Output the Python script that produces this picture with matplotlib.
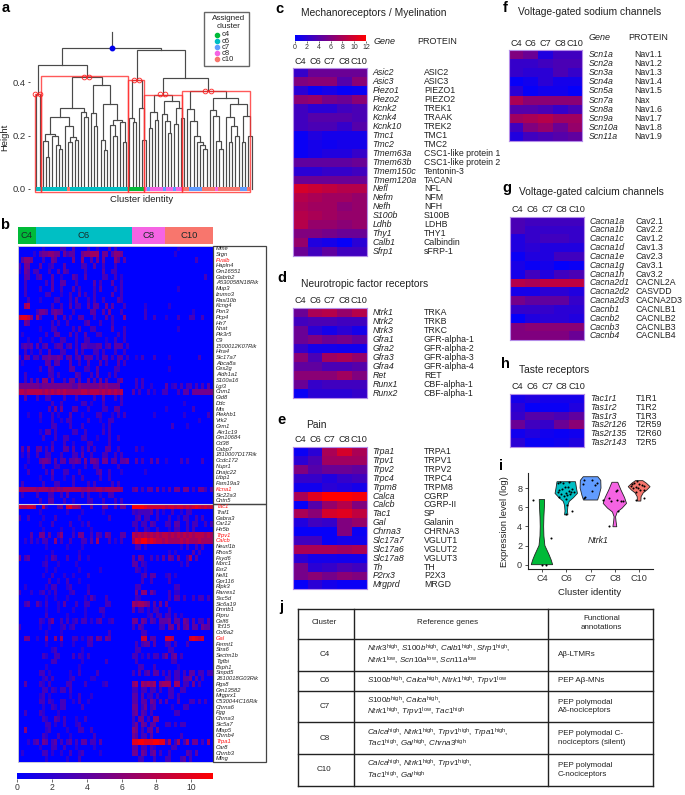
import matplotlib
matplotlib.use("Agg")
import matplotlib.pyplot as plt
from matplotlib.colors import LinearSegmentedColormap
from matplotlib.patches import Rectangle
import numpy as np

plt.rcParams['font.family'] = ['Liberation Sans', 'DejaVu Sans']
plt.rcParams['mathtext.fontset'] = 'custom'
plt.rcParams['mathtext.rm'] = 'Liberation Sans'
plt.rcParams['mathtext.it'] = 'Liberation Sans:italic'
plt.rcParams['mathtext.bf'] = 'Liberation Sans:bold'

W, H = 685, 795
cols = ["C4", "C6", "C7", "C8", "C10"]
cluster_colors = {"c4": "#00ba38", "c6": "#00bfc4", "c7": "#619cff", "c8": "#f564e3", "c10": "#f8766d"}

# ---- panel a: dendrogram, node = [height, left, right], 0 is a leaf
box1 = [.355, 0, 0]
box2 = [.42,
        [.305,
         [.27,
          [.205, [.18, 0, [.12, 0, 0]], [.2, 0, [.165, 0, [.15, 0, 0]]]],
          [.235, 0, [.195, [.175, 0, 0], [.185, 0, 0]]]],
         [.29, 0, [.27, 0, 0]]],
        [.39,
         [.285, 0, [.235, 0, 0]],
         [.32, [.185, 0, [.145, 0, 0]],
          [.26, [.24, 0, [.2, 0, 0]], [.25, 0, [.175, 0, 0]]]]]]
box3 = [.408, [.265, 0, [.25, 0, 0]], [.305, 0, [.185, 0, 0]]]
box4 = [.354,
        [.29, [.23, 0, 0], [.26, 0, 0]],
        [.33, [.28, 0, [.255, 0, [.21, 0, 0]]], [.305, [.245, 0, 0], [.265, 0, 0]]]]
box5 = [.367,
        [.3, 0, [.255, 0, [.2, 0, [.175, 0, [.165, 0, [.15, 0, 0]]]]]],
        [.34,
         [.295, 0, [.275, 0, [.18, 0, [.15, 0, 0]]]],
         [.32, [.27, 0, [.235, [.175, 0, 0], [.2, 0, 0]]], [.275, [.175, 0, 0], [.2, 0, 0]]]]]
tree = [.528, [.464, box1, box2], [.522, box3, [.415, box4, box5]]]
root_top = .59
marked_heights = [.355, .42, .408, .354, .367]
box_counts = [2, 27, 5, 12, 21]
box_tops = [.358, .423, .408, .354, .369]
leaf_clusters = (["c6"] * 2 + ["c6"] * 8 + ["c10"] + ["c6"] * 18 + ["c4"] * 5
                 + ["c8", "c7", "c8", "c8", "c8", "c8", "c7", "c8", "c8", "c7", "c8", "c8"]
                 + ["c10", "c10", "c7", "c7", "c7", "c7", "c10", "c10", "c10", "c10", "c8",
                    "c10", "c10", "c10", "c10", "c10", "c10", "c10", "c7", "c7", "c10"])

# ---- panel b: one char per cell, . = 0, a = 10, b = 11 (C4 | C6 | C8 | C10)
genes_top = ["Mme", "Srgn", "Pvalb", "Hapln4", "Gm16551", "Gabrb2", "A530058N18Rik", "Mup3", "Izumo3",
             "Rasl10b", "Kcng4", "Pon3", "Pcp4", "Htr7", "Nnat", "Pik3r5", "C9", "1500012K07Rik", "Htra4",
             "Slc17a7", "Abca8a", "Ces2g", "Aldh1a1", "S100a16", "Lgi3", "Cnm1", "Gid8", "Ddc", "Mts",
             "Plekhb1", "Vrk2", "Grm1", "Akr1c19", "Gm10684", "Cd38", "Cabp7", "1810007D17Rik", "Ccdc172",
             "Nupr1", "Dnajc22", "Ltbp1", "Fam19a3", "Kcna1", "Slc22a3", "Cntn5"]
rows_top = [
    "......|..2.....33..4....3..2...4.3.|...........|....2...........",
    ".....2|.4556655.5344..566777.55.4665.|...........|...2............",
    ".4665.|..3..54.....5..6..4.5.5...64.4|...........|..........3.....",
    "3.55..|.4..23...4.....33..4..3...3..|...........|................",
    "2.54.3|3...3..4.43.....3.....4..33..|...........|................",
    "..44..|34...4..2...43..4.....33..3.2|...........|.............3..",
    "..3...|...3.4..44...3.....4.3...4..3.|...........|................",
    "..3...|.3...4..3...4.3....3.4....3.3|...........|....2...........",
    "..3...|...33...2..3..4.3..3.....4..3.|...........|................",
    "...3..|.2....33...3.4...3.3..3....43.|...........|................",
    "..78..|.....3..3..4.33..4.44..5.4...3|....2......|.2..............",
    "......|3554.4544...3.....44..4.5...3|....3......|.........2......",
    "9aa96.|73....5..4.3..44...3...4.3...6|....3..3...|2...3...33..3...",
    "..54..|.....3.3..3.....34...3...3....|...........|................",
    "......|.2...33.....3.4...33.....4...3|...........|....2...........",
    ".2....|...3..44...4.3..4...33.....3.3|...........|................",
    "...2..|.3...2..33...3..33.....2..3..3|...........|................",
    ".3434.|4.34..344.34.3.4433344.34.444.3|...........|................",
    "..3.2.|.3..4...33...4.3...33.3...3..3|...........|................",
    "3.55.3|3.4454454.44.34.444.3.44.3.44.3|.2.3...3...|.2.........3....",
    ".2....|...44.44...4..3..4...4.3...4.3.|...........|................",
    "......|.3..43.....44...33..4.....33.|...........|.2..............",
    "..3...|....33.3.....43...3.4...3.3...|...........|................",
    "..3.4.|4.66.5...3.55.4..5.4.5.4...45|.3.3.......|................",
    "555555|5455555555554465555556565555|.3.3..2....|4.23.3.33.3.3.4.",
    "887888|88787878787777788788878787878|4.3..3.2..3|3...3.44.5555555",
    "..4...|3..33....3...3.....3..4...3.3|...........|................",
    "......|.....3..3......33.2...3.....3|...........|......2.........",
    "......|....4.5.5...44...3....33..44.|...........|2........3......",
    "...2..|.3...3.2...4...2....33...2.3.3|.......2...|......2.......3.",
    "......|.2...3..2.33.....3...2..33...|...........|...........2....",
    "......|.....33....3...3......2.3....|...........|..3....2........",
    "......|.2.44.3.....33..3.....3.3...|...........|................",
    "......|..3...3..33....33...2...3..3|...........|................",
    "......|.....3...3..2....33.....3....|...........|................",
    ".4.5..|44.3.4...44.4..3.4.3...44..3.|.3.2.......|................",
    ".2.3..|3..33...3...33.4..3...33..3.3.|...........|................",
    "...2..|.4554.4.44.4454.5.554.55.44.445|.4.3..4.4..|2....3.3....3...",
    "..2...|..3...33....2...3..33......3..|...........|................",
    "...3..|...3.4...33...3.....34..3...2.|....2......|................",
    "......|.2...3...2..3..3.....3..3...|...........|................",
    ".3....|..3...33....3....3.3.....3.3..|...........|................",
    "777777|67776767677777766766776777776|45.3.44.5.3|.4.55.55.3.553.4",
    ".2....|3...33..3.4....3.3...2..33....|...........|................",
    "......|.3..44...3..2....33...3...3.3|...........|................",
]
genes_bottom = ["Tac1", "Traf1", "Gabra3", "Car12", "Htr5b", "Trpv1", "Calcb", "Neurl1b", "Rhox5", "Fxyd6",
                "Morc1", "Esr2", "Nell1", "Gpr116", "Ripk3", "Rarres1", "Ssc5d", "Slc6a19", "Dmrtb1", "Ptpru",
                "Celf6", "Tcf15", "Col6a2", "Gal", "Fermt1", "Stra6", "Sectm1b", "Tgfbi", "Bsph1", "Smpd5",
                "2610018G03Rik", "Rgs8", "Gm13582", "Mrgprx1", "C530044C16Rik", "Chrna6", "Fgg", "Chrna3",
                "Slc5a7", "Mfap5", "Chrnb4", "Trpa1", "Car8", "Chrnb3", "Mfng"]
rows_bottom = [
    "988998|..82...45.9a776...5...55..4.55.|bbbba999999|8998998989a98989",
    "......|.2........2....2......2.......|3233334.3.2|..3..2.33.......",
    "3..3..|..2...3.......2.........3.....|.34.33..3..|.3..2.33..3.3...",
    "......|.2...3.....3...2.3............|33.33.43...|33.44..3.33..3.3",
    "......|..2.....2...2.....2...........|.3..32..3..|.2.33..3.3......",
    "....4.|.55.4..36...3.55..3.43.54...44|87878787878|8787878787888787",
    "..2.3.|2.33..6.3..3...33.4.7...3.2.3.|7a9bb9a9887|8777787877787777",
    "......|...2......2....2..............|.33.2......|.....2.3..3.3...",
    "......|.....2........2...............|...........|.2.2.....4.3....",
    "5.34..|...2.43...3...3..2............|4.54..3.3.4|.54.5..37.4.....",
    "......|..23...2.....2................|44.32......|.....2.3........",
    "......|...2..2.......2......2........|.32.2......|................",
    "......|..2..3...2..2....3............|...34.44...|23.2............",
    "......|....3..2..3...2...............|...3..3....|.3..............",
    "..2...|...2.33...23.....2............|.33........|...33...........",
    "3...2.|.23.2.3....23....3............|.5.66.53...|.3.22...........",
    "......|...2..2...2.....2.42...3......|.32........|.3.44.3..3.33.3.",
    "..34..|42.3...2.4...3..33.....33.....|767765.4.5.|5...............",
    "......|...2...2....2...2....33.......|4.33.2.33..|.3..............",
    "......|...3......2.....2.....2.......|.....23.33.|33.3.2..........",
    "......|.32.35..3.3.23.33.2.34..23....|55.54.43.44|45.44.54.4.33.4.",
    "3.....|.2..2...23.23.................|3.43.....33|.55.5.45.44.544.",
    "......|...2....2...............3.....|...33......|................",
    "..55..|2..6..6.7...33.2.34.54.54.....|...99.44...|998.....9a989...",
    "......|...2....2...2....33...........|.3.344.4...|33.3...3........",
    "......|.....23........2..............|.33........|.33.............",
    "......|..32..33....3.32.3............|33.2.3.33.3|5.45.3..........",
    "......|.....33........2.......3......|.3.........|..33............",
    "......|...2..........2...............|..33...3...|....2...........",
    "......|.33.2......2..3.....3.........|3.4.34.44.3|.3.33.3.44.33.33",
    "......|..23.3.....23.....22..........|...........|33.33.445.4.3...",
    "..4...|.32.3.....33....3.....23......|67.76767.67|77.77.33.5.3....",
    "......|..33.32.33.3..................|33.33.33.3.|.33..33.........",
    "......|.23.2......2..3...2...........|44.4.23.3..|.33.3...........",
    "......|.33.32..33..2.3..2............|44.44.54.4.|4...4...33.3.3..",
    "......|..2..32.33.....3..............|55.35.34...|..2...33........",
    "..3...|.32....2......................|45.43.3....|...33...........",
    "......|..32..43.3...2..3.............|3.55.3.66..|................",
    "......|...33.2..3...23...............|35.54.44...|33.3.33.........",
    "..6...|...23.....2...33..3...........|65.3.45.5..|................",
    "......|..32...3...2.......3..........|54.33.4....|.....3..........",
    "...2.3|4.54.34.3.34.3.44.33.4........|aabbaaabbaa|37.37.37.55.3.7.",
    "......|.2...33..3...2.....2..........|44.33.32...|..33............",
    ".2....|..33.2..2..3..23.....2........|55.54.45.3.|.3.....43.4.....",
    "......|...2......2...3...............|..33...3...|33...34.3.......",
]
red_genes = ["Pvalb", "Kcna1", "Tac1", "Trpv1", "Calcb", "Gal", "Trpa1"]
header_names = ["C4", "C6", "C8", "C10"]
header_widths = [6, 32, 11, 16]
header_colors = ["#00ba38", "#00bfc4", "#f564e3", "#f8766d"]
cbar_b_ticks = [0, 2, 4, 6, 8, 10]

# ---- panels c to h, columns C4 C6 C7 C8 C10
genes_c = ["Asic2", "Asic3", "Piezo1", "Piezo2", "Kcnk2", "Kcnk4", "Kcnk10", "Tmc1", "Tmc2", "Tmem63a", "Tmem63b",
           "Tmem150c", "Tmem120a", "Nefl", "Nefm", "Nefh", "S100b", "Ldhb", "Thy1", "Calb1", "Sfrp1"]
prot_c = ["ASIC2", "ASIC3", "PIEZO1", "PIEZO2", "TREK1", "TRAAK", "TREK2", "TMC1", "TMC2", "CSC1-like protein 1",
          "CSC1-like protein 2", "Tentonin-3", "TACAN", "NFL", "NFM", "NFH", "S100B", "LDHB", "THY1", "Calbindin",
          "sFRP-1"]
vals_c = [[2.5, 5, 5, 5, 5], [6, 6.5, 6.5, 4, 6.5], [2, .5, 1, .3, .5], [6.5, 7, 5.5, 5, 6.5], [3, 2, 2, 3, 3.5],
          [3, 4, 4, 4, 3.5], [3, 3.5, 3.5, 2.5, 4], [.5, 1.5, 1, 1, 1], [.5, 1, .7, 1, 1], [.5, 1, 1.5, 1.5, 2.5],
          [4.5, 4.5, 4.5, 4.5, 5], [2, 2, 2.5, 2.5, 3], [5, 5, 5, 5, 5], [10, 9.5, 9, 8.5, 8.5], [8.5, 8, 7.5, 7.5, 7],
          [8, 7.5, 7.5, 6.5, 7], [8.5, 8, 7.5, 7, 7], [8.5, 7, 7, 6.5, 7], [6, 6, 5.5, 5, 5], [7, 1.5, 1, .3, 2],
          [5, 3, 4.5, 3, 3]]
genes_d = ["Ntrk1", "Ntrk2", "Ntrk3", "Gfra1", "Gfra2", "Gfra3", "Gfra4", "Ret", "Runx1", "Runx2"]
prot_d = ["TRKA", "TRKB", "TRKC", "GFR-alpha-1", "GFR-alpha-2", "GFR-alpha-3", "GFR-alpha-4", "RET", "CBF-alpha-1",
          "CBF-alpha-1"]
vals_d = [[5, 8, 8.5, 7, 8.5], [3, 3.5, 3.5, 3, 3], [5, 2, 1, 2, 1], [5, 6, 5, 5.5, 4.5], [2.5, 1, 1, .8, .8],
          [6.5, 3.5, 7.5, 8, 7], [4.5, 4.5, 3.5, 3.5, 4], [6.5, 6.5, 6.5, 7.5, 6], [5, 2.5, 3, 3, 3], [.5, 2, 2, 2, 2.5]]
genes_e = ["Trpa1", "Trpv1", "Trpv2", "Trpc4", "Trpm8", "Calca", "Calcb", "Tac1", "Gal", "Chrna3", "Slc17a7", "Slc17a6",
           "Slc17a8", "Th", "P2rx3", "Mrgprd"]
prot_e = ["TRPA1", "TRPV1", "TRPV2", "TRPC4", "TRPM8", "CGRP", "CGRP-II", "SP", "Galanin", "CHRNA3", "VGLUT1", "VGLUT2",
          "VGLUT3", "TH", "P2X3", "MRGD"]
vals_e = [[.5, 2, 8, 10, 8], [2, 3.5, 7.5, 7.5, 7.5], [6, 4, 5, 5, 4.5], [2.5, 2.5, 1.5, 2.5, 3], [.8, .8, 2, 1.5, 1],
          [8, 10.5, 12, 12, 11.5], [.3, 4, 7, 8.5, 6], [8, 6.5, 10, 10.5, 9], [1.5, 3, 2.5, 6, 7], [.3, .3, .3, 6, .5],
          [3, 3, .3, 1, .8], [8, 8, 8, 7.5, 8], [2, 1, 1, .8, .8], [5.5, 2, 2.5, 3.5, 3], [5.5, 6.5, 5.5, 6.5, 6],
          [.3, 2, 1, .5, .5]]
genes_f = ["Scn1a", "Scn2a", "Scn3a", "Scn4a", "Scn5a", "Scn7a", "Scn8a", "Scn9a", "Scn10a", "Scn11a"]
prot_f = ["Nav1.1", "Nav1.2", "Nav1.3", "Nav1.4", "Nav1.5", "Nax", "Nav1.6", "Nav1.7", "Nav1.8", "Nav1.9"]
vals_f = [[6, 5, 1.5, 3, 3], [2.5, 2.5, 3, 3.5, 3.5], [2.5, 2, 2, 3.5, 2.5], [.3, .8, 2, 1, 1], [2, .3, .8, .8, .2],
          [8, 6.5, 6.5, 6.5, 6.5], [4, 4, 3.5, 2.5, 3.5], [7.5, 8, 8.5, 7.5, 7.5], [3, 6, 7, 5, 7], [1.5, 3, 3.5, 4, 4.5]]
genes_g = ["Cacna1a", "Cacna1b", "Cacna1c", "Cacna1d", "Cacna1e", "Cacna1g", "Cacna1h", "Cacna2d1", "Cacna2d2",
           "Cacna2d3", "Cacnb1", "Cacnb2", "Cacnb3", "Cacnb4"]
prot_g = ["Cav2.1", "Cav2.2", "Cav1.2", "Cav1.3", "Cav2.3", "Cav3.1", "Cav3.2", "CACNL2A", "CASVDD", "CACNA2D3",
          "CACNLB1", "CACNLB2", "CACNLB3", "CACNLB4"]
vals_g = [[3.5, 3, 3, 3, 3], [3.5, 2.5, 2.5, 2.5, 2.5], [1.5, 2.5, 3, 3, 2.5], [1.5, 2, 1.5, 1.5, 1.5], [.5, 1.5, 1.5, 3, 3],
          [1.2, .5, 1, .2, .5], [1, 3, 1.5, 3, 3.5], [8.5, 8, 9, 9, 9], [1, 1, 2, 2, 1.5], [5.5, 4.5, 4.5, 4.5, 2.5],
          [2.5, 2.5, 2.5, 2, 2], [.2, 1.5, 2, 2, 1.5], [6, 6.5, 6.5, 6.5, 6.5], [6, 6, 6, 6, 5]]
genes_h = ["Tac1r1", "Tas1r2", "Tas1r3", "Tas2r126", "Tas2r135", "Tas2r143"]
prot_h = ["T1R1", "T1R2", "T1R3", "T2R59", "T2R60", "T2R5"]
vals_h = [[1, 1.5, 1, 1, 1], [2, .3, .5, .5, 1.5], [2.5, 4, 4, 3.5, 4.5], [5, 3, 2.5, 5, 6.5], [.8, 1.5, .8, .5, .8],
          [2, .5, .5, .8, 1.5]]
cbar_c_ticks = [0, 2, 4, 6, 8, 10, 12]

# ---- panel i: violins as (level, half width), jittered cells as (offset, level)
violin_names = ["c4", "c6", "c7", "c8", "c10"]
violin_levels = [[0, .5, 1, 2, 3, 4, 5, 6, 6.8],
                 [5.2, 5.6, 6.2, 6.6, 7, 7.44, 8, 8.66],
                 [6.75, 7.2, 8, 8.8, 9.18],
                 [3.96, 4.5, 5, 5.5, 5.9, 6.4, 7, 7.8, 8.6],
                 [6.64, 7.1, 7.5, 7.8, 8.14, 8.5, 8.77]]
violin_widths = [[.44, .38, .3, .12, .08, .07, .08, .1, .11],
                 [.07, .05, .07, .12, .3, .46, .42, .38],
                 [.29, .35, .43, .42, .3],
                 [.08, .05, .03, .1, .3, .48, .4, .25, .12],
                 [.07, .08, .17, .32, .45, .3, .15]]
points_x = [[-.36, .37, 0, .16],
            [-.35, -.3, -.33, -.25, -.22, -.3, -.18, -.1, -.05, -.12, 0, .05, .1, .12, .16, .2, .25, .3, -.02, .08, .22, 0, .02],
            [-.26, .08, .27, .17, -.32, -.23, .04, -.26],
            [.03, .08, -.23, -.48, .07, -.16, .11, .27, .34, -.23],
            [-.33, -.3, -.25, -.2, -.15, -.1, -.05, 0, .05, .1, .18, -.12, .22, -.12, .22]]
points_y = [[6.75, 2.8, 0, 0],
            [8.5, 7.8, 7.6, 8.6, 7.4, 7.1, 7.9, 7.2, 8.1, 8.5, 7.5, 7.3, 7.7, 8.6, 7.4, 7.6, 7.9, 7.6, 6.9, 8.1, 5.6, 5.3, 6.2],
            [8.8, 8.85, 8.5, 8.35, 8.4, 7.1, 7.7, 6.95],
            [7.7, 7.8, 7, 6.7, 6.7, 6.6, 5.6, 6.6, 6.6, 4],
            [8.2, 8.4, 8, 8.5, 8.1, 8.7, 8, 8.4, 7.8, 8.3, 8.2, 7.6, 7.8, 6.7, 7]]
violin_y_ticks = [0, 2, 4, 6, 8]

# ---- panel j
table_clusters = ["C4", "C6", "C7", "C8", "C10"]
table_genes = [[[("Ntrk3", "high"), ("S100b", "high"), ("Calb1", "high"), ("Sfrp1", "high")],
                [("Ntrk1", "low"), ("Scn10a", "low"), ("Scn11a", "low")]],
               [[("S100b", "high"), ("Calca", "high"), ("Ntrk1", "high"), ("Trpv1", "low")]],
               [[("S100b", "high"), ("Calca", "high")],
                [("Ntrk1", "high"), ("Trpv1", "low"), ("Tac1", "high")]],
               [[("Calca", "high"), ("Ntrk1", "high"), ("Trpv1", "high"), ("Trpa1", "high")],
                [("Tac1", "high"), ("Gal", "high"), ("Chrna3", "high")]],
               [[("Calca", "high"), ("Ntrk1", "high"), ("Trpv1", "high")],
                [("Tac1", "high"), ("Gal", "high")]]]
table_notes = ["A\u03b2-LTMRs", "PEP A\u03b2-MNs", "PEP polymodal\nA\u03b4-nociceptors",
               "PEP polymodal C-\nnociceptors (silent)", "PEP polymodal\nC-nociceptors"]

cmap = LinearSegmentedColormap.from_list("br", ["#0000ff", "#ff0000"])

fig = plt.figure(figsize=(W / 100, H / 100), dpi=100)
over = fig.add_axes([0, 0, 1, 1], zorder=5)
over.set_xlim(0, W)
over.set_ylim(H, 0)
over.axis("off")


def px_axes(x0, y0, x1, y1):
    return fig.add_axes([x0 / W, 1 - y1 / H, (x1 - x0) / W, (y1 - y0) / H])


def txt(x, y, s, size=6.3, **kw):
    kw.setdefault("va", "center")
    kw.setdefault("color", "#222222")
    over.text(x, y, s, fontsize=size, **kw)


def letter(x, y, s):
    txt(x, y, s, size=10.5, fontweight="bold", color="black", ha="center")


# panel a
ax = px_axes(30, 28, 255, 195)
ax.set_xlim(-1.96, 68.08)
ax.set_ylim(-.0238, .6045)
ax.patch.set_alpha(0)
for s in ax.spines.values():
    s.set_visible(False)
leaf_i = [0]
marks = []


def draw(node):
    if node == 0:
        x = leaf_i[0]
        leaf_i[0] += 1
        return x, 0
    h, l, r = node
    xl, hl = draw(l)
    xr, hr = draw(r)
    ax.plot([xl, xl, xr, xr], [hl, h, h, hr], color="#4a4a4a", lw=.85, solid_joinstyle="miter", zorder=2)
    if h in marked_heights:
        marks.append(((xl + xr) / 2, h))
    return (xl + xr) / 2, h


rx, rh = draw(tree)
ax.plot([rx, rx], [rh, root_top], color="#4a4a4a", lw=.85)
ax.plot([rx], [rh], "o", color="#0000ee", ms=3.2, zorder=4)
for i, c in enumerate(leaf_clusters):
    ax.add_patch(Rectangle((i - .5, -.008), 1, .016, color=cluster_colors[c], lw=0, zorder=3))
start = -.5
for n, top in zip(box_counts, box_tops):
    ax.add_patch(Rectangle((start, -.014), n, top + .014, fill=False, ec="#ff3030", lw=1.0, alpha=.8, zorder=5))
    start += n
for mx, mh in marks:
    ax.plot([mx - .8, mx + .8], [mh + .001, mh + .001], "o", mfc="none", mec="#ff2020", ms=3.4, mew=.6, zorder=6)
ax.set_xticks([])
ax.set_yticks([0, .2, .4])
ax.set_yticklabels(["0.0", "0.2", "0.4"], fontsize=6.8, color="#333333")
ax.tick_params(axis="y", length=1.5, width=.6, pad=1.5, color="#333333")
letter(6, 8, "a")
txt(5, 137, "Height", size=6.8, rotation=90, ha="center")
txt(142, 200, "Cluster identity", size=6.8, ha="center")
over.add_patch(Rectangle((204, 12), 45, 54, fc="white", ec="#666666", lw=1))
txt(229, 18, "Assigned", size=5.9, ha="center")
txt(229, 26.7, "cluster", size=5.9, ha="center")
for i, k in enumerate(violin_names):
    y = 35 + i * 6.1
    over.plot([216.7], [y], "o", color=cluster_colors[k], ms=3)
    txt(221.7, y, k, size=5.5)

# panel b
letter(5, 225, "b")


def parse_rows(rows):
    m = []
    for r in rows:
        parts = r.split("|")
        line = ""
        for p, w in zip(parts, header_widths):
            line += p.ljust(w, ".")[:w]
        m.append([0 if c == "." else int(c, 16) for c in line])
    return m


matrix = np.array(parse_rows(rows_top) + parse_rows(rows_bottom), dtype=float)
axb = px_axes(18, 245.7, 213, 761.7)
axb.pcolormesh(matrix, cmap=cmap, vmin=0, vmax=11.25)
axb.invert_yaxis()
axb.set_xticks([])
axb.set_yticks([])
axb.axhline(45, color="#d0c8d8", lw=.8)
for s in axb.spines.values():
    s.set_color("#c8c8d8")
    s.set_linewidth(.7)
hx = 18.0
cell = 195 / sum(header_widths)
for name, w, c in zip(header_names, header_widths, header_colors):
    over.add_patch(Rectangle((hx, 227), w * cell, 17, fc=c, lw=0))
    txt(hx + w * cell / 2, 236, name, size=6.8, ha="center", color="#1a2a2a")
    hx += w * cell
row_h = 516 / 90
for i, g in enumerate(genes_top + genes_bottom):
    txt(216, 245.7 + (i + .5) * row_h, g, size=4.15, style="italic",
        color="#ff1010" if g in red_genes else "#222222")
over.add_patch(Rectangle((213, 245.7), 53, 258, fill=False, ec="#444444", lw=.9))
over.add_patch(Rectangle((213, 503.7), 53, 258, fill=False, ec="#444444", lw=.9))
axc = px_axes(17.4, 773.3, 213, 779.3)
grad = np.linspace(0, 11.25, 256).reshape(1, -1)
axc.imshow(grad, aspect="auto", cmap=cmap, extent=[0, 11.25, 0, 1])
axc.set_yticks([])
axc.set_xticks(cbar_b_ticks)
axc.tick_params(axis="x", labelsize=6.2, length=2, width=.5, pad=1, colors="#333333")
for s in axc.spines.values():
    s.set_visible(False)


# panels c to h
def heat(x0, y0, x1, y1, vals, genes, prots, gx, px_, size=6.3, collab_y=None, colsize=6.6):
    a = px_axes(x0, y0, x1, y1)
    a.pcolormesh(np.array(vals), cmap=cmap, vmin=0, vmax=12)
    a.invert_yaxis()
    a.set_xticks([])
    a.set_yticks([])
    for s in a.spines.values():
        s.set_color("#b48ce8")
        s.set_linewidth(.8)
    rh_ = (y1 - y0) / len(genes)
    for i, (g, p) in enumerate(zip(genes, prots)):
        yy = y0 + (i + .5) * rh_
        txt(gx, yy, g, size=size, style="italic")
        txt(px_, yy, p, size=size)
    cw = (x1 - x0) / 5
    for i, c in enumerate(cols):
        txt(x0 + (i + .5) * cw, collab_y, c, size=colsize, ha="center")


letter(279, 9, "c")
txt(300.7, 13, "Mechanoreceptors / Myelination", size=7.4)
txt(374, 41, "Gene", size=6.5, style="italic")
txt(417, 41, "PROTEIN", size=6.5)
axc2 = px_axes(295, 35, 366, 41)
axc2.imshow(np.linspace(0, 12, 256).reshape(1, -1), aspect="auto", cmap=cmap, extent=[0, 12, 0, 1])
axc2.set_yticks([])
axc2.set_xticks(cbar_c_ticks)
axc2.tick_params(axis="x", labelsize=5, length=1.5, width=.5, pad=.8, colors="#333333")
for s in axc2.spines.values():
    s.set_visible(False)
heat(292.7, 68.3, 366.7, 256, vals_c, genes_c, prot_c, 372.7, 424, collab_y=62)

letter(282, 278, "d")
txt(301, 284, "Neurotropic factor receptors", size=7.4)
heat(292.7, 308.3, 366.7, 397.7, vals_d, genes_d, prot_d, 372.7, 424, collab_y=300.7)

letter(282, 420.5, "e")
txt(305.7, 425, "Pain", size=7.4)
heat(292.7, 447.3, 366.7, 589.3, vals_e, genes_e, prot_e, 372.7, 424, collab_y=439)

letter(505, 8, "f")
txt(518, 12, "Voltage-gated sodium channels", size=7.4)
txt(588.7, 37, "Gene", size=6.5, style="italic")
txt(628.7, 37, "PROTEIN", size=6.5)
heat(508.7, 50.3, 582.3, 140.7, vals_f, genes_f, prot_f, 589, 634.7, collab_y=43)

letter(507, 188, "g")
txt(519.3, 192, "Voltage-gated calcium channels", size=7.4)
heat(510, 216.7, 584, 340.3, vals_g, genes_g, prot_g, 590, 636, collab_y=209)

letter(505, 364, "h")
txt(519, 370, "Taste receptors", size=7.4)
heat(510, 394.3, 584, 446.7, vals_h, genes_h, prot_h, 590, 636, collab_y=386.7)

# panel i
letter(501, 466, "i")
axi = px_axes(527.7, 472.7, 653, 568.7)
axi.set_xlim(-.586, 4.57)
axi.set_ylim(-.42, 9.6)
for i, k in enumerate(violin_names):
    lv = np.array(violin_levels[i])
    wd = np.array(violin_widths[i])
    xs = np.concatenate([i - wd, (i + wd)[::-1]])
    ys = np.concatenate([lv, lv[::-1]])
    axi.fill(xs, ys, fc=cluster_colors[k], ec="#222222", lw=.6, zorder=2)
    axi.scatter(i + np.array(points_x[i]), points_y[i], s=2.2, c="black", lw=0, zorder=3)
axi.set_xticks(range(5))
axi.set_xticklabels(cols)
axi.set_yticks(violin_y_ticks)
axi.tick_params(labelsize=6.6, length=2, width=.6, pad=2, colors="#333333")
axi.spines["top"].set_visible(False)
axi.spines["right"].set_visible(False)
axi.spines["left"].set_color("#222222")
axi.spines["bottom"].set_color("#222222")
txt(505, 521.5, "Expression level (log)", size=6.8, rotation=90, ha="center")
txt(590, 592.7, "Cluster identity", size=6.8, ha="center")
txt(598, 540.7, "Ntrk1", size=6.3, style="italic", ha="center")


# panel j
def gene_line(items):
    return ", ".join(r"$\mathit{%s}^{\mathrm{%s}}$" % it for it in items)


letter(281, 607, "j")
h_lines = [609, 639, 670.7, 691, 722.3, 754, 785.7]
v_lines = [297.7, 354.3, 547.7, 653.3]
for yy in h_lines:
    over.plot([v_lines[0], v_lines[-1]], [yy, yy], color="#222222", lw=1)
for xx in v_lines:
    over.plot([xx, xx], [h_lines[0], h_lines[-1]], color="#222222", lw=1)
txt(324.3, 623, "Cluster", size=5.8, ha="center")
txt(448, 623, "Reference genes", size=5.8, ha="center")
txt(601.7, 623, "Functional\nannotations", size=5.8, ha="center", multialignment="center", linespacing=1.3)
for i, name in enumerate(table_clusters):
    yc = (h_lines[i + 1] + h_lines[i + 2]) / 2
    txt(324.3, yc, name, size=5.8, ha="center")
    txt(366.7, yc, ",\n".join(gene_line(items) for items in table_genes[i]), size=5.8, linespacing=.8)
    txt(557.7, yc, table_notes[i], size=5.8, linespacing=1.3)

fig.savefig("out.png", dpi=100)
